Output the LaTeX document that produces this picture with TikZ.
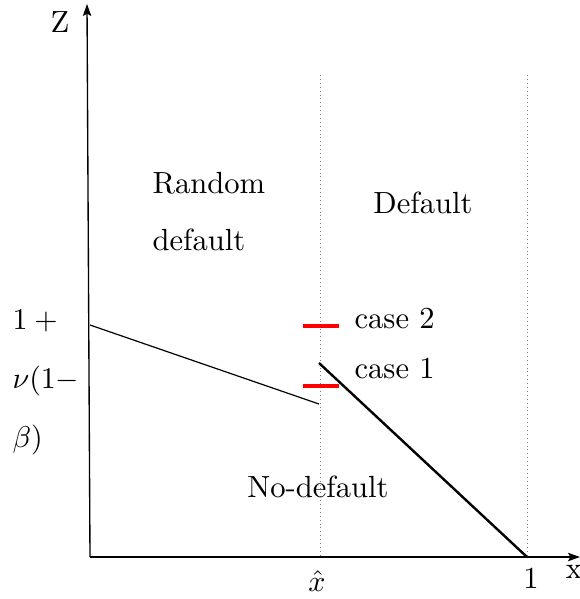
\documentclass[tikz,border=0pt]{standalone}
\usetikzlibrary{arrows.meta}
\begin{document}
\begin{tikzpicture}[x=0.33333pt,y=-0.33333pt,
  axis/.style={line width=0.45pt,-{Stealth[length=4pt,width=2.8pt,inset=0.8pt]}},
  guide/.style={densely dotted,gray,line width=0.3pt},
  redmark/.style={red,line width=1.1pt},
  lbl/.style={inner sep=0pt,font=\fontsize{10.2}{12}\selectfont},
  lblw/.style={lbl,anchor=west}]
\useasboundingbox (0,0) rectangle (580,599);
% axes
\coordinate (O) at (90,557);
\coordinate (Ytop) at (87,4);
\coordinate (Xend) at (580,557);
\draw[axis] (O) -- (Ytop);
\draw[axis] (O) -- (Xend);
\node[lbl] (Z) at (60,22) {Z};
\node[lbl] (X) at (574,572) {x};
% guides
\coordinate (g1t) at (320,75); \coordinate (g1b) at (320,557);
\coordinate (g2t) at (527,75); \coordinate (g2b) at (527,557);
\draw[guide] (g1t) -- (g1b);
\draw[guide] (g2t) -- (g2b);
% boundary lines
\coordinate (A) at (90,325);
\coordinate (B) at (319,404);
\coordinate (C) at (319,363);
\coordinate (D) at (527,557);
\draw[line width=0.4pt] (A) -- (B);
\draw[line width=0.8pt] (C) -- (D);
% red marks
\coordinate (r2a) at (303,326); \coordinate (r2b) at (339,326);
\coordinate (r1a) at (303,386); \coordinate (r1b) at (339,386);
\draw[redmark] (r2a) -- (r2b);
\draw[redmark] (r1a) -- (r1b);
\node[lblw] (c2) at (354,318) {case 2};
\node[lblw] (c1) at (354,368) {case 1};
% region labels
\node[lblw] (rand) at (152,183) {Random};
\node[lblw] (rdef) at (152,240) {default};
\node[lbl] (def) at (423,203) {Default};
\node[lbl] (nodef) at (318,487) {No-default};
% y labels
\node[lblw] (y1) at (12,321) {$1+{}$};
\node[lblw] (y2) at (12,381) {$\nu(1-$};
\node[lblw] (y3) at (12,440) {$\beta)$};
% x ticks labels
\node[lbl] (xh) at (317,581) {$\hat{x}$};
\node[lbl] (one) at (531,578) {1};
\end{tikzpicture}
\end{document}
